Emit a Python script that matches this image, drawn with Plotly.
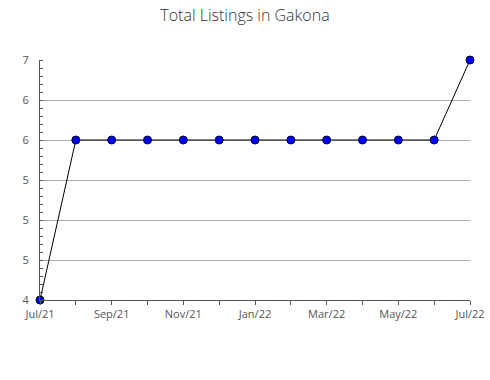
import plotly.graph_objects as go

months = ["Jul/21", "Aug/21", "Sep/21", "Oct/21", "Nov/21", "Dec/21", "Jan/22",
          "Feb/22", "Mar/22", "Apr/22", "May/22", "Jun/22", "Jul/22"]
listings = [4, 6, 6, 6, 6, 6, 6, 6, 6, 6, 6, 6, 7]
x_tick_labels = ["Jul/21", "", "Sep/21", "", "Nov/21", "", "Jan/22", "",
                 "Mar/22", "", "May/22", "", "Jul/22"]
y_tick_vals = [4, 4.5, 5, 5.5, 6, 6.5, 7]
y_tick_labels = ["4", "5", "5", "5", "6", "6", "7"]

idx = list(range(len(months)))

fig = go.Figure()
fig.add_trace(go.Scatter(
    x=idx, y=listings, mode="lines+markers",
    line=dict(color="black", width=1),
    marker=dict(symbol="circle", size=8, color="#0000ff",
                line=dict(color="#000033", width=1)),
    cliponaxis=False, showlegend=False,
))

fig.update_layout(
    width=490, height=380,
    margin=dict(l=40, r=20, t=60, b=80, autoexpand=False),
    paper_bgcolor="white", plot_bgcolor="white",
    font=dict(family="Open Sans", size=11, color="#555555"),
    title=dict(text="Total Listings in Gakona", x=0.5, xanchor="center",
               y=0.96, yanchor="middle",
               font=dict(family="Open Sans", size=16, color="#333333", weight=300)),
)
fig.update_xaxes(
    range=[0, 12], tickvals=idx, ticktext=x_tick_labels, automargin=False,
    showgrid=False, zeroline=False, showline=True, linecolor="#555555", linewidth=1,
    ticks="outside", ticklen=4, tickcolor="#555555",
)
fig.update_yaxes(
    range=[4, 7], tickvals=y_tick_vals, ticktext=y_tick_labels, automargin=False,
    showgrid=True, gridcolor="#aaaaaa", gridwidth=1, zeroline=False,
    showline=True, linecolor="#555555", linewidth=1,
    ticks="", ticklabelstandoff=8,
    minor=dict(tickmode="linear", tick0=4, dtick=0.1, ticks="inside", ticklen=3,
               tickcolor="#555555", showgrid=False),
)

fig.write_html("out.html")
